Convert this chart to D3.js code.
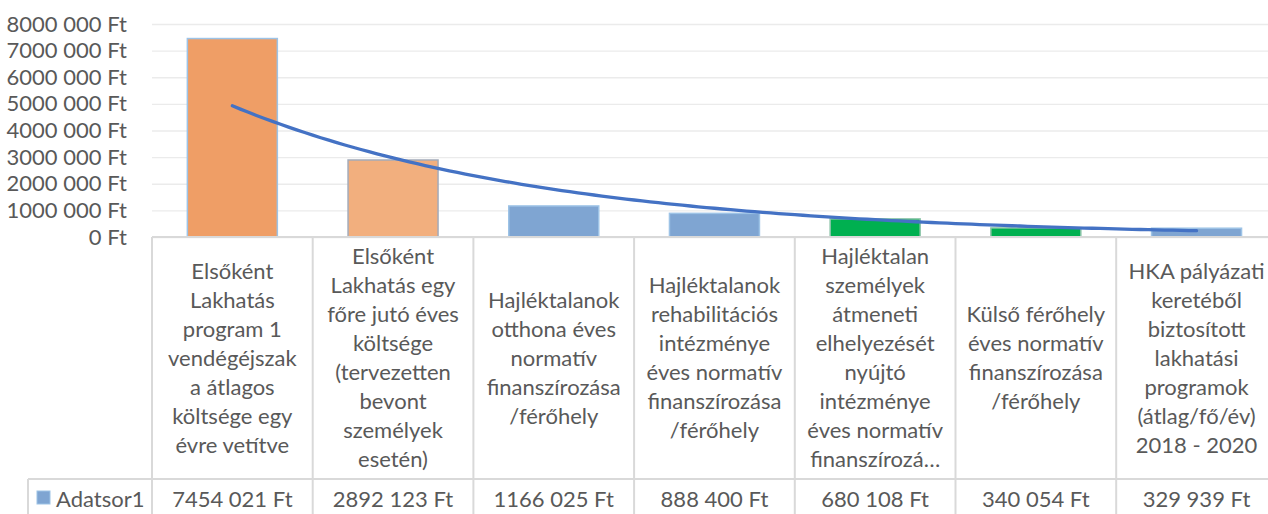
<!DOCTYPE html>
<html><head><meta charset="utf-8">
<script src="https://cdn.jsdelivr.net/npm/d3@7"></script>
<style>
html,body{margin:0;padding:0;background:#fff;}
svg{display:block;}
text{font-family:Lato,"Open Sans",sans-serif;fill:#595959;}
</style></head>
<body>
<svg id="chart" width="1268" height="514"></svg>
<script>
// ---- data ----
const categories = [
  ["Elsőként","Lakhatás","program 1","vendégéjszak","a átlagos","költsége egy","évre vetítve"],
  ["Elsőként","Lakhatás egy","főre jutó éves","költsége","(tervezetten","bevont","személyek","esetén)"],
  ["Hajléktalanok","otthona éves","normatív","finanszírozása","/férőhely"],
  ["Hajléktalanok","rehabilitációs","intézménye","éves normatív","finanszírozása","/férőhely"],
  ["Hajléktalan","személyek","átmeneti","elhelyezését","nyújtó","intézménye","éves normatív","finanszírozá…"],
  ["Külső férőhely","éves normatív","finanszírozása","/férőhely"],
  ["HKA pályázati","keretéből","biztosított","lakhatási","programok","(átlag/fő/év)","2018 - 2020"]
];
const seriesName = "Adatsor1";
const values = [7454021, 2892123, 1166025, 888400, 680108, 340054, 329939];
const yTicks = [0, 1000000, 2000000, 3000000, 4000000, 5000000, 6000000, 7000000, 8000000];

// ---- styles ----
const barFills   = ["#EF9E66", "#F2AF7E", "#7FA5D2", "#7FA5D2", "#00B050", "#00B050", "#7FA5D2"];
const barStrokes = ["#9DC3E6", "#A3ABBA", "#9DC3E6", "#9DC3E6", "#8CC4A8", "#8CC4A8", "#9DC3E6"];
const fontSize = 22;

function huf(v){
  const s = Math.round(v).toString();
  if (s.length <= 3) return s + " Ft";
  return s.slice(0, -3) + " " + s.slice(-3) + " Ft";
}

const svg = d3.select("#chart");
const W = 1268, H = 514;
const left = 152, right = 152 + 7 * 160.7;
const yTop = 24, yBase = 237, rowTop = 479, legendLeft = 28;

const idx = values.map((d, i) => i);
const x = d3.scaleBand().domain(idx).range([left, right]).paddingInner(0.44).paddingOuter(0.22);
const y = d3.scaleLinear().domain([0, 8000000]).range([yBase, yTop]);
const step = x.step();

// gridlines
svg.append("g")
  .attr("transform", `translate(${left},0)`)
  .call(d3.axisLeft(y).tickValues(yTicks).tickSize(-(W - left)).tickFormat(""))
  .call(g => g.select(".domain").remove())
  .call(g => g.selectAll("line").attr("stroke", "#EBEBEB").attr("stroke-width", 1.3));

// y labels
svg.append("g")
  .attr("transform", `translate(${left},0)`)
  .call(d3.axisLeft(y).tickValues(yTicks).tickSize(0).tickPadding(25).tickFormat(huf))
  .call(g => g.select(".domain").remove())
  .call(g => g.selectAll("text").style("font-size", fontSize + "px").attr("fill", "#595959"));

// bars
svg.append("g").selectAll("rect").data(values).join("rect")
  .attr("x", (d, i) => x(i))
  .attr("width", x.bandwidth())
  .attr("y", d => y(d))
  .attr("height", d => y(0) - y(d))
  .attr("fill", (d, i) => barFills[i])
  .attr("stroke", (d, i) => barStrokes[i])
  .attr("stroke-width", 1.5);

// exponential trendline (least squares on ln values)
const xs = values.map((d, i) => i + 1);
const ls = values.map(d => Math.log(d));
const mx = d3.mean(xs), ml = d3.mean(ls);
const b = d3.sum(xs, (v, i) => (v - mx) * (ls[i] - ml)) / d3.sum(xs, v => (v - mx) * (v - mx));
const a = Math.exp(ml - b * mx);
const xt = d3.scaleLinear().domain([1, values.length]).range([x(0) + x.bandwidth() / 2, x(values.length - 1) + x.bandwidth() / 2]);
const tPts = d3.range(1, values.length + 0.001, 0.05);
svg.append("path")
  .datum(tPts)
  .attr("fill", "none")
  .attr("stroke", "#4472C4")
  .attr("stroke-width", 3.3)
  .attr("stroke-linecap", "round")
  .attr("d", d3.line().x(t => xt(t)).y(t => y(a * Math.exp(b * t))));

// table lines
const tbl = svg.append("g").attr("stroke", "#D9D9D9").attr("stroke-width", 2);
tbl.append("line").attr("x1", left).attr("x2", W).attr("y1", yBase).attr("y2", yBase);
tbl.append("line").attr("x1", legendLeft).attr("x2", W).attr("y1", rowTop).attr("y2", rowTop);
tbl.append("line").attr("x1", legendLeft).attr("x2", legendLeft).attr("y1", rowTop).attr("y2", H);
const bounds = d3.range(values.length + 1).map(i => left + i * step);
tbl.selectAll("line.v").data(bounds).join("line").attr("class", "v")
  .attr("x1", d => d).attr("x2", d => d).attr("y1", yBase).attr("y2", H);

// category labels
const lineH = 29;
const midY = (yBase + rowTop) / 2;
const catG = svg.append("g");
categories.forEach((lines, i) => {
  const cx = left + i * step + step / 2;
  const t = catG.append("text")
    .attr("text-anchor", "middle")
    .style("font-size", fontSize + "px");
  const y0 = midY - (lines.length - 1) * lineH / 2;
  lines.forEach((ln, j) => {
    t.append("tspan").attr("x", cx).attr("y", y0 + j * lineH).attr("dy", "0.35em").text(ln);
  });
});

// value row
const rowMid = 499;
svg.append("g").selectAll("text").data(values).join("text")
  .attr("x", (d, i) => left + i * step + step / 2)
  .attr("y", rowMid).attr("dy", "0.35em")
  .attr("text-anchor", "middle")
  .style("font-size", fontSize + "px")
  .text(d => huf(d));

// legend key
svg.append("rect").attr("x", 37).attr("y", 491).attr("width", 13).attr("height", 13)
  .attr("fill", "#7FA5D2").attr("stroke", "#9DC3E6").attr("stroke-width", 1);
svg.append("text").attr("x", 56).attr("y", rowMid).attr("dy", "0.35em")
  .style("font-size", fontSize + "px").text(seriesName);
</script>
</body></html>
